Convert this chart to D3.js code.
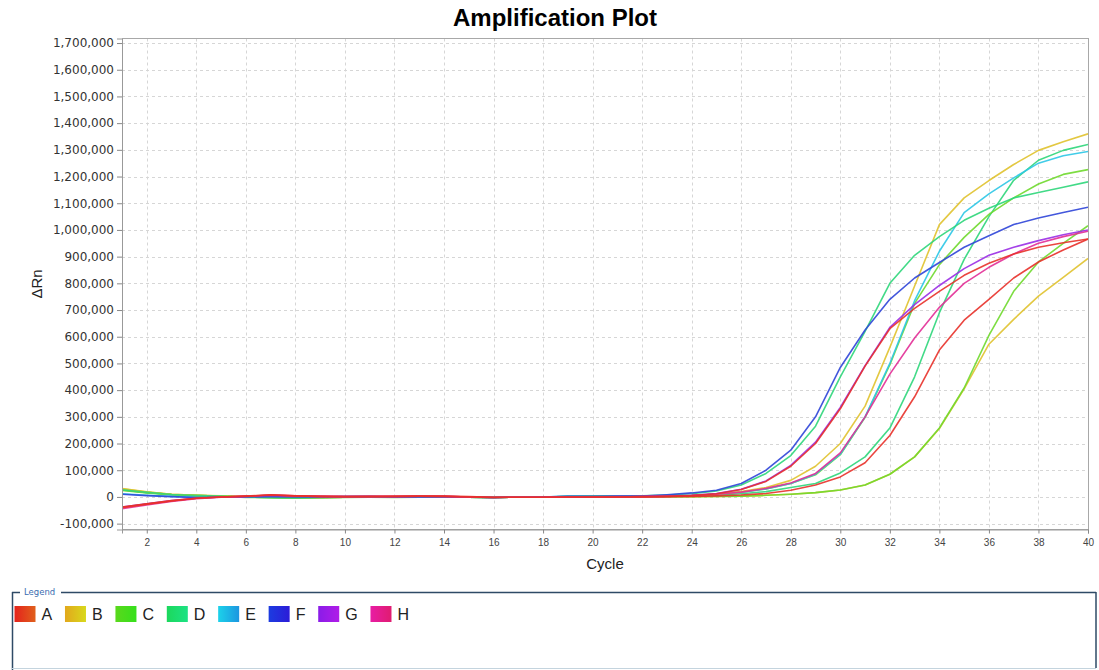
<!DOCTYPE html>
<html>
<head>
<meta charset="utf-8">
<script src="https://cdn.jsdelivr.net/npm/d3@7"></script>
<style>
  html, body { margin: 0; padding: 0; background: #ffffff; }
  svg { display: block; }
</style>
</head>
<body>
<svg id="chart" width="1099" height="670"></svg>
<script>
// ---------------- DATA (ΔRn in thousands) ----------------
const cycles = [1,2,3,4,5,6,7,8,9,10,11,12,13,14,15,16,17,18,19,20,21,22,23,24,25,26,27,28,29,30,31,32,33,34,35,36,37,38,39,40];
const xTickValues = [2,4,6,8,10,12,14,16,18,20,22,24,26,28,30,32,34,36,38,40];
const yTickValues = [-100000,0,100000,200000,300000,400000,500000,600000,700000,800000,900000,1000000,1100000,1200000,1300000,1400000,1500000,1600000,1700000];
const legendRows = ["A","B","C","D","E","F","G","H"];
const rowColors = ["#e8312a","#e0c22e","#6fd92e","#2ed67a","#2cc6e6","#2f45d8","#9a2ee6","#e22e96"];
const swatchFrom = ["#e4221c","#e2a81c","#5ad81c","#1cd85c","#1cd2ea","#1c3ce0","#8a1ce8","#e81ca4"];
const swatchTo   = ["#e0601c","#d8d81c","#36e01c","#1ce284","#1c96e0","#2c1cd8","#b01ce8","#e01c70"];

const wellA1 = [-40,-27,-15,-5,0,3,7,4,2,1,2,2,3,2,0,-2,-1,-1,0,0,0,1,2, 5,12,28,58,115,200,330,490,630,706,770,830,875,910,935,952,966];
const wellA2 = [-38,-26,-14,-5,0,3,8,4,2,1,1,2,3,3,1,-1,-1,-1,0,0,0,0,1, 2,4,7,13,25,45,75,128,230,375,550,662,740,820,880,925,966];
const wellB1 = [30,18,10,6,4,1,0,-2,-2,-1,0,-1,0,0,-1,-2,-1,-1,0,1,1,2,3, 5,10,20,35,62,115,200,340,560,790,1020,1120,1185,1245,1298,1330,1360];
const wellB2 = [31,19,10,6,3,0,-1,-3,-2,-1,0,-1,0,0,-1,-2,-1,0,0,0,0,1,1, 1,2,3,6,10,16,26,45,85,150,256,405,572,665,752,822,893];
const wellC1 = [24,15,8,5,3,-2,-3,-4,-3,-2,-1,-2,-1,0,-1,-2,-1,0,1,1,2,2,3, 5,10,18,30,50,83,158,298,495,725,870,972,1058,1120,1172,1208,1226];
const wellC2 = [28,17,9,5,3,-1,-2,-3,-2,-1,0,-1,0,0,-1,-2,-1,0,0,0,0,1,1, 1,2,3,6,10,16,26,45,85,150,258,408,605,770,880,950,1016];
const wellD1 = [27,17,9,5,3,-1,-2,-4,-2,-1,0,-1,0,0,-1,-2,-1,0,1,2,2,4,7, 12,22,45,88,155,265,450,620,800,905,975,1036,1081,1120,1140,1160,1180];
const wellD2 = [26,16,9,5,3,-1,-2,-3,-2,-1,0,-1,0,0,-1,-2,-1,0,1,1,1,2,2, 3,6,12,20,35,50,90,150,258,450,690,890,1050,1186,1261,1298,1320];
const wellE1 = [12,6,2,-1,-1,0,1,0,0,1,1,0,0,0,-1,-2,-1,0,3,3,3,3,4, 5,10,18,30,50,85,160,300,500,735,920,1065,1135,1195,1250,1278,1294];
const wellF1 = [10,5,1,-2,-1,0,1,0,0,1,1,0,0,0,-1,-2,-1,0,2,2,3,3,8, 15,25,50,100,175,300,485,625,740,820,878,935,978,1020,1045,1065,1085];
const wellG1 = [-38,-26,-14,-5,0,2,6,3,2,1,2,1,2,2,0,-2,-1,-1,0,0,1,1,3, 6,13,29,60,118,205,335,492,635,720,792,855,905,935,960,982,1000];
const wellH1 = [-44,-30,-17,-7,-1,2,6,4,2,1,1,2,3,2,0,-2,-1,-1,0,0,0,1,2, 5,10,18,32,52,88,165,300,460,595,710,800,860,910,950,975,995];

const series = [
  {row:"B", values: wellB2}, {row:"C", values: wellC2},
  {row:"D", values: wellD2}, {row:"C", values: wellC1},
  {row:"E", values: wellE1}, {row:"B", values: wellB1},
  {row:"D", values: wellD1}, {row:"F", values: wellF1},
  {row:"G", values: wellG1}, {row:"H", values: wellH1},
  {row:"A", values: wellA2}, {row:"A", values: wellA1}
];
const UNIT = 1000;

// ---------------- LAYOUT ----------------
const svg = d3.select("#chart");
const plot = {left: 122, right: 1088, top: 38.5, bottom: 529.5};

const x = d3.scaleLinear().domain([1, 40]).range([plot.left, plot.right]);
const y = d3.scaleLinear().domain([-122000, 1717000]).range([plot.bottom, plot.top]);
const color = d3.scaleOrdinal().domain(legendRows).range(rowColors);
const numFmt = d3.formatLocale({decimal: ".", thousands: ",", grouping: [3], currency: ["", ""], minus: "-"}).format(",");

// Title
svg.append("text")
  .attr("x", 555).attr("y", 26)
  .attr("text-anchor", "middle")
  .style("font-family", "'Liberation Sans', Arial, sans-serif")
  .style("font-weight", "bold").style("font-size", "24px").style("fill", "#000")
  .text("Amplification Plot");

// Grid
const grid = svg.append("g");
grid.selectAll("line.h").data(yTickValues).enter().append("line")
  .attr("x1", plot.left).attr("x2", plot.right)
  .attr("y1", d => Math.round(y(d)) + 0.5).attr("y2", d => Math.round(y(d)) + 0.5)
  .attr("stroke", "#d6d6d6").attr("stroke-dasharray", "3,3").attr("stroke-width", 1);
grid.selectAll("line.v").data(xTickValues.filter(d => d < 40)).enter().append("line")
  .attr("y1", plot.top).attr("y2", plot.bottom)
  .attr("x1", d => Math.round(x(d)) + 0.5).attr("x2", d => Math.round(x(d)) + 0.5)
  .attr("stroke", "#d6d6d6").attr("stroke-dasharray", "3,3").attr("stroke-width", 1);

// Lines
const clipId = "plotclip";
svg.append("clipPath").attr("id", clipId).append("rect")
  .attr("x", plot.left).attr("y", plot.top)
  .attr("width", plot.right - plot.left).attr("height", plot.bottom - plot.top);

const line = d3.line()
  .x((d, i) => x(cycles[i]))
  .y(d => y(d * UNIT));

svg.append("g").attr("clip-path", `url(#${clipId})`)
  .selectAll("path").data(series).enter().append("path")
  .attr("d", d => line(d.values))
  .attr("fill", "none")
  .attr("stroke", d => color(d.row))
  .attr("stroke-width", 1.6)
  .attr("stroke-opacity", 0.9)
  .attr("stroke-linejoin", "round");

// Plot border
svg.append("rect")
  .attr("x", plot.left + 0.5).attr("y", plot.top)
  .attr("width", plot.right - plot.left).attr("height", plot.bottom - plot.top)
  .attr("fill", "none").attr("stroke", "#a8a8a8").attr("stroke-width", 1);

// Axes
const yAxis = d3.axisLeft(y).tickValues(yTickValues).tickSize(5).tickPadding(3)
  .tickFormat(numFmt);
const gy = svg.append("g").attr("transform", `translate(${plot.left},0)`).call(yAxis);
gy.select(".domain").attr("stroke", "#999");
gy.selectAll(".tick line").attr("stroke", "#888");
gy.selectAll(".tick text")
  .style("font-family", "'DejaVu Sans', Verdana, sans-serif")
  .style("font-size", "12px").style("fill", "#333");

const xAxis = d3.axisBottom(x).tickValues(xTickValues).tickSize(4).tickPadding(5)
  .tickFormat(d3.format("d"));
const gx = svg.append("g").attr("transform", `translate(0,${plot.bottom})`).call(xAxis);
gx.select(".domain").attr("stroke", "#999");
gx.selectAll(".tick line").attr("stroke", "#888");
gx.selectAll(".tick text")
  .style("font-family", "'Liberation Sans', Arial, sans-serif")
  .style("font-size", "10px").style("fill", "#444");

// Axis titles
svg.append("text")
  .attr("x", 605).attr("y", 569)
  .attr("text-anchor", "middle")
  .style("font-family", "'Liberation Sans', Arial, sans-serif")
  .style("font-size", "15px").style("fill", "#222")
  .text("Cycle");

svg.append("text")
  .attr("transform", "translate(42,284) rotate(-90)")
  .attr("text-anchor", "middle")
  .style("font-family", "'Liberation Sans', Arial, sans-serif")
  .style("font-size", "15px").style("fill", "#222")
  .text("ΔRn");

// Legend box
const lg = svg.append("g");
lg.append("line").attr("x1", 12.5).attr("x2", 12.5).attr("y1", 592).attr("y2", 670)
  .attr("stroke", "#2e4a66").attr("stroke-width", 1.5);
lg.append("line").attr("x1", 12).attr("x2", 20).attr("y1", 592.5).attr("y2", 592.5)
  .attr("stroke", "#2e4a66").attr("stroke-width", 1.5);
lg.append("line").attr("x1", 61).attr("x2", 1096).attr("y1", 592.5).attr("y2", 592.5)
  .attr("stroke", "#2e4a66").attr("stroke-width", 1.5);
lg.append("line").attr("x1", 1096).attr("x2", 1096).attr("y1", 592).attr("y2", 668)
  .attr("stroke", "#2e4a66").attr("stroke-width", 1.5);
lg.append("line").attr("x1", 12).attr("x2", 1096).attr("y1", 668.5).attr("y2", 668.5)
  .attr("stroke", "#c4d4de").attr("stroke-width", 1);
lg.append("text").attr("x", 24).attr("y", 595)
  .style("font-family", "'DejaVu Sans', sans-serif")
  .style("font-size", "8.5px").style("fill", "#3a6cb0")
  .text("Legend");

const defs = svg.append("defs");
legendRows.forEach((r, i) => {
  const g = defs.append("linearGradient").attr("id", "sw" + r)
    .attr("x1", "0%").attr("x2", "100%").attr("y1", "0%").attr("y2", "0%");
  g.append("stop").attr("offset", "0%").attr("stop-color", swatchFrom[i]);
  g.append("stop").attr("offset", "100%").attr("stop-color", swatchTo[i]);
});

let cx = 14.5;
legendRows.forEach((r, i) => {
  lg.append("rect").attr("x", cx).attr("y", 606).attr("width", 21).attr("height", 16)
    .attr("fill", `url(#sw${r})`);
  const t = lg.append("text").attr("x", cx + 27).attr("y", 620)
    .style("font-family", "'Liberation Sans', Arial, sans-serif")
    .style("font-size", "16px").style("fill", "#222")
    .text(r);
  cx = cx + 27 + t.node().getComputedTextLength() + 12.8;
});
</script>
</body>
</html>
